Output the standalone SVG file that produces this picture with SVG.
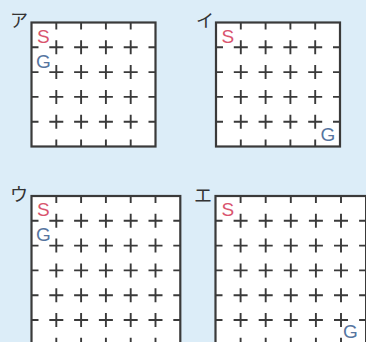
<svg xmlns="http://www.w3.org/2000/svg" width="366" height="342" viewBox="0 0 366 342">
<style>
.bg{fill:#dcedf8}
.box{fill:#ffffff;stroke:#3a3a3a;stroke-width:2.2}
.v{stroke:#3a3a3a;stroke-width:1.9;fill:none;stroke-dasharray:14 10.8;stroke-dashoffset:7}
.v2{stroke:#3a3a3a;stroke-width:1.9;fill:none;stroke-dasharray:14 11.1;stroke-dashoffset:7}
.lab{font-family:"Noto Sans CJK JP","Noto Sans CJK SC",sans-serif;font-size:18px;fill:#333333}
.s{font-family:"Liberation Sans",Arial,sans-serif;font-size:19px;fill:#d9546e}
.g{font-family:"Liberation Sans",Arial,sans-serif;font-size:19px;fill:#56759f}
</style>
<rect class="bg" x="0" y="0" width="366" height="342"/>

<g id="grid-a">
<text class="lab" x="10" y="27">ア</text>
<rect class="box" x="31.5" y="22.5" width="124" height="124"/>
<path class="v" d="M56.3 22.5V146.5M81.1 22.5V146.5M105.9 22.5V146.5M130.7 22.5V146.5M31.5 47.3H155.5M31.5 72.1H155.5M31.5 96.9H155.5M31.5 121.7H155.5"/>
<text class="s" x="37" y="43">S</text>
<text class="g" x="36" y="68">G</text>
</g>

<g id="grid-i">
<text class="lab" x="196" y="27">イ</text>
<rect class="box" x="216" y="22.5" width="124" height="124"/>
<path class="v" d="M240.8 22.5V146.5M265.6 22.5V146.5M290.4 22.5V146.5M315.2 22.5V146.5M216 47.3H340M216 72.1H340M216 96.9H340M216 121.7H340"/>
<text class="s" x="221.5" y="43">S</text>
<text class="g" x="320.5" y="140.5">G</text>
</g>

<g id="grid-u">
<text class="lab" x="10" y="201">ウ</text>
<rect class="box" x="31.5" y="196" width="148.8" height="148.8"/>
<path class="v" d="M56.3 196V344.8M81.1 196V344.8M105.9 196V344.8M130.7 196V344.8M155.5 196V344.8M31.5 220.8H180.3M31.5 245.6H180.3M31.5 270.4H180.3M31.5 295.2H180.3M31.5 320H180.3"/>
<text class="s" x="37" y="216">S</text>
<text class="g" x="36" y="241">G</text>
</g>

<g id="grid-e">
<text class="lab" x="194" y="202">エ</text>
<rect class="box" x="215.5" y="196" width="150.6" height="148.8"/>
<path class="v" d="M240.6 196V344.8M265.7 196V344.8M290.8 196V344.8M315.9 196V344.8M341 196V344.8"/>
<path class="v2" d="M215.5 220.8H366.1M215.5 245.6H366.1M215.5 270.4H366.1M215.5 295.2H366.1M215.5 320H366.1"/>
<text class="s" x="221.5" y="216">S</text>
<text class="g" x="343" y="337.5">G</text>
</g>
</svg>
